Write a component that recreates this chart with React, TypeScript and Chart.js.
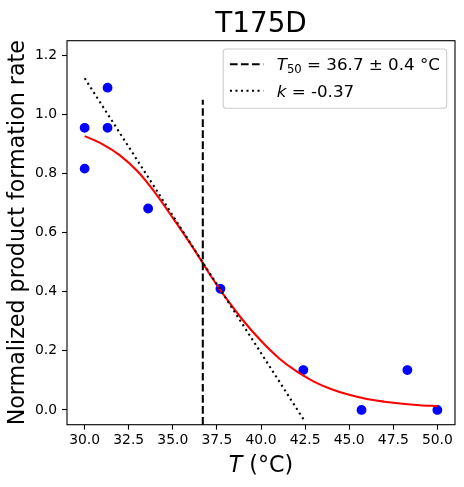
import { useEffect, useRef } from "react";
import { Chart, registerables } from "chart.js";

Chart.register(...registerables);

const TITLE = "T175D";
const X_LABEL_SYM = "T";
const X_LABEL_REST = " (°C)";
const Y_LABEL = "Normalized product formation rate";

const POINT_T = [30, 30, 31.3, 31.3, 33.6, 37.7, 42.4, 45.7, 48.3, 50];
const POINT_RATE = [0.955, 0.817, 1.091, 0.955, 0.682, 0.41, 0.135, 0.0, 0.135, 0.0];

const FIT_T = [30, 31, 32, 33, 34, 35, 36, 36.7, 37, 38, 39, 40, 41, 42, 43, 44, 45, 46, 47, 48, 49, 50];
const FIT_RATE = [0.927, 0.9, 0.862, 0.808, 0.735, 0.65, 0.562, 0.497, 0.468, 0.38, 0.302, 0.234, 0.176, 0.131, 0.096, 0.07, 0.051, 0.037, 0.028, 0.021, 0.016, 0.013];

const T50 = 36.7;
const T50_LINE_RATE = [-0.05, 1.05];
const SLOPE_T = [30, 42.5];
const SLOPE_RATE = [1.123, -0.04];

const X_TICKS = [30, 32.5, 35, 37.5, 40, 42.5, 45, 47.5, 50];
const Y_TICKS = [0, 0.2, 0.4, 0.6, 0.8, 1.0, 1.2];
const X_RANGE = [29, 51];
const Y_RANGE = [-0.05, 1.25];

const LEGEND_T50_SYM = "T";
const LEGEND_T50_SUB = "50";
const LEGEND_T50_REST = " = 36.7 ± 0.4 °C";
const LEGEND_K_SYM = "k";
const LEGEND_K_REST = " = -0.37";

const FAMILY = "'DejaVu Sans', sans-serif";
const DASHED = [7.7, 3.33];
const DOTTED = [2.08, 3.44];
const LW = 2.08;

const decor = {
  id: "decor",
  afterDatasetsDraw(chart: any) {
    const { ctx, chartArea: a } = chart;
    ctx.save();
    ctx.strokeStyle = "#000";
    ctx.lineWidth = 1.1;
    ctx.strokeRect(a.left, a.top, a.right - a.left, a.bottom - a.top);
    ctx.restore();
  },
  afterDraw(chart: any) {
    const { ctx, chartArea: a } = chart;
    const cx = (a.left + a.right) / 2;
    const cy = (a.top + a.bottom) / 2;
    ctx.save();
    ctx.fillStyle = "#000";
    ctx.textBaseline = "alphabetic";

    // title
    ctx.font = `27.8px ${FAMILY}`;
    ctx.textAlign = "center";
    ctx.fillText(TITLE, cx, a.top - 8.3);

    // x label
    ctx.textAlign = "left";
    ctx.font = `italic 22.2px ${FAMILY}`;
    const wSym = ctx.measureText(X_LABEL_SYM).width;
    ctx.font = `22.2px ${FAMILY}`;
    const wRest = ctx.measureText(X_LABEL_REST).width;
    const x0 = cx - (wSym + wRest) / 2;
    const xb = 472;
    ctx.font = `italic 22.2px ${FAMILY}`;
    ctx.fillText(X_LABEL_SYM, x0, xb);
    ctx.font = `22.2px ${FAMILY}`;
    ctx.fillText(X_LABEL_REST, x0 + wSym, xb);

    // y label
    ctx.save();
    ctx.translate(24.3, cy);
    ctx.rotate(-Math.PI / 2);
    ctx.textAlign = "center";
    ctx.font = `22.2px ${FAMILY}`;
    ctx.fillText(Y_LABEL, 0, 0);
    ctx.restore();

    // legend
    const lw = 223.5;
    const lx = a.right - 8.3 - lw;
    const ly = a.top + 8.3;
    const lh = 59.2;
    ctx.beginPath();
    if ((ctx as any).roundRect) (ctx as any).roundRect(lx, ly, lw, lh, 3);
    else ctx.rect(lx, ly, lw, lh);
    ctx.fillStyle = "rgba(255,255,255,0.8)";
    ctx.fill();
    ctx.strokeStyle = "#cccccc";
    ctx.lineWidth = 1.1;
    ctx.stroke();

    const hx0 = lx + 6.7;
    const hx1 = hx0 + 33.4;
    const tx = hx1 + 13.4;
    const b1 = ly + 21.1;
    const b2 = ly + 47.6;

    ctx.strokeStyle = "#000";
    ctx.lineWidth = LW;
    ctx.lineCap = "butt";
    ctx.setLineDash(DASHED);
    ctx.beginPath();
    ctx.moveTo(hx0, b1 - 5.85);
    ctx.lineTo(hx1, b1 - 5.85);
    ctx.stroke();
    ctx.setLineDash(DOTTED);
    ctx.beginPath();
    ctx.moveTo(hx0, b2 - 5.85);
    ctx.lineTo(hx1, b2 - 5.85);
    ctx.stroke();
    ctx.setLineDash([]);

    ctx.fillStyle = "#000";
    ctx.textAlign = "left";
    ctx.font = `italic 16.7px ${FAMILY}`;
    ctx.fillText(LEGEND_T50_SYM, tx, b1);
    let px = tx + ctx.measureText(LEGEND_T50_SYM).width;
    ctx.font = `11.7px ${FAMILY}`;
    ctx.fillText(LEGEND_T50_SUB, px, b1 + 3);
    px += ctx.measureText(LEGEND_T50_SUB).width;
    ctx.font = `16.7px ${FAMILY}`;
    ctx.fillText(LEGEND_T50_REST, px, b1);

    ctx.font = `italic 16.7px ${FAMILY}`;
    ctx.fillText(LEGEND_K_SYM, tx, b2);
    px = tx + ctx.measureText(LEGEND_K_SYM).width;
    ctx.font = `16.7px ${FAMILY}`;
    ctx.fillText(LEGEND_K_REST, px, b2);

    ctx.restore();
  },
};

export default function App() {
  const ref = useRef<HTMLCanvasElement | null>(null);

  useEffect(() => {
    if (!ref.current) return;
    const tickFont = { family: FAMILY, size: 13.9 };
    const chart = new Chart(ref.current, {
      type: "scatter",
      data: {
        datasets: [
          {
            label: "slope",
            data: SLOPE_T.map((t, i) => ({ x: t, y: SLOPE_RATE[i] })),
            showLine: true,
            borderColor: "#000",
            borderWidth: LW,
            borderDash: DOTTED,
            borderCapStyle: "butt",
            pointRadius: 0,
            order: 1,
          },
          {
            label: "T50",
            data: T50_LINE_RATE.map((r) => ({ x: T50, y: r })),
            showLine: true,
            borderColor: "#000",
            borderWidth: LW,
            borderDash: DASHED,
            borderCapStyle: "butt",
            pointRadius: 0,
            order: 2,
          },
          {
            label: "fit",
            data: FIT_T.map((t, i) => ({ x: t, y: FIT_RATE[i] })),
            showLine: true,
            borderColor: "#ff0000",
            borderWidth: LW,
            cubicInterpolationMode: "monotone",
            pointRadius: 0,
            order: 3,
          },
          {
            label: "data",
            data: POINT_T.map((t, i) => ({ x: t, y: POINT_RATE[i] })),
            backgroundColor: "#0000ff",
            borderColor: "#0000ff",
            borderWidth: 1.4,
            pointRadius: 4.2,
            order: 4,
          },
        ],
      } as any,
      options: {
        animation: false,
        responsive: false,
        devicePixelRatio: 1,
        layout: { padding: { top: 40.7, right: 9, left: 0, bottom: 0 } },
        plugins: {
          legend: { display: false },
          tooltip: { enabled: false },
          title: { display: false },
        },
        scales: {
          x: {
            type: "linear",
            min: X_RANGE[0],
            max: X_RANGE[1],
            afterBuildTicks: (s: any) => {
              s.ticks = X_TICKS.map((v) => ({ value: v }));
            },
            afterFit: (s: any) => {
              s.height = 62.3;
            },
            ticks: {
              callback: (v: any) => Number(v).toFixed(1),
              color: "#000",
              font: tickFont,
              padding: 2,
              maxRotation: 0,
              autoSkip: false,
            },
            grid: {
              display: true,
              drawOnChartArea: false,
              drawTicks: true,
              tickLength: 5,
              tickColor: "#000",
              tickWidth: 1.1,
            },
            border: { display: false },
          },
          y: {
            type: "linear",
            min: Y_RANGE[0],
            max: Y_RANGE[1],
            afterBuildTicks: (s: any) => {
              s.ticks = Y_TICKS.map((v) => ({ value: v }));
            },
            afterFit: (s: any) => {
              s.width = 67;
            },
            ticks: {
              callback: (v: any) => Number(v).toFixed(1),
              color: "#000",
              font: tickFont,
              padding: 5,
              autoSkip: false,
            },
            grid: {
              display: true,
              drawOnChartArea: false,
              drawTicks: true,
              tickLength: 5,
              tickColor: "#000",
              tickWidth: 1.1,
            },
            border: { display: false },
          },
        },
      } as any,
      plugins: [decor],
    });
    return () => chart.destroy();
  }, []);

  return (
    <div style={{ position: "absolute", left: 0, top: 0, width: 464, height: 487 }}>
      <canvas ref={ref} width={464} height={487} style={{ display: "block" }} />
    </div>
  );
}
